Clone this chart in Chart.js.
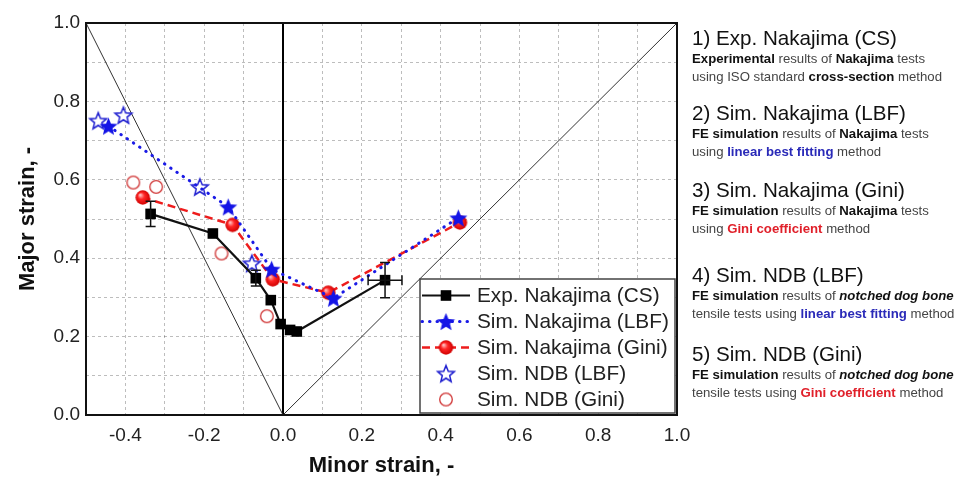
<!DOCTYPE html>
<html>
<head>
<meta charset="utf-8">
<script src="https://cdn.jsdelivr.net/npm/chart.js"></script>
<style>
html,body{margin:0;padding:0;background:#fff;}
#wrap{position:relative;width:966px;height:481px;overflow:hidden;background:#fff;}
#c{position:absolute;left:0;top:0;}
.note{position:absolute;left:692px;font-family:"Liberation Sans",Arial,sans-serif;color:#444;white-space:nowrap;}
.note .t{font-size:20.6px;line-height:24px;color:#111;}
.note .s{font-size:13.2px;line-height:18px;}
.note b{color:#111;}
.blue{color:#2a2ab8;font-weight:bold;}
.red{color:#e0202a;font-weight:bold;}
</style>
</head>
<body>
<div id="wrap">
<canvas id="c" width="966" height="481"></canvas>
<div class="note" style="top:26px"><div class="t">1) Exp. Nakajima (CS)</div><div class="s"><b>Experimental</b> results of <b>Nakajima</b> tests</div><div class="s">using ISO standard <b>cross-section</b> method</div></div>
<div class="note" style="top:101px"><div class="t">2) Sim. Nakajima (LBF)</div><div class="s"><b>FE simulation</b> results of <b>Nakajima</b> tests</div><div class="s">using <span class="blue">linear best fitting</span> method</div></div>
<div class="note" style="top:178px"><div class="t">3) Sim. Nakajima (Gini)</div><div class="s"><b>FE simulation</b> results of <b>Nakajima</b> tests</div><div class="s">using <span class="red">Gini coefficient</span> method</div></div>
<div class="note" style="top:263px"><div class="t">4) Sim. NDB (LBF)</div><div class="s"><b>FE simulation</b> results of <b><i>notched dog bone</i></b></div><div class="s">tensile tests using <span class="blue">linear best fitting</span> method</div></div>
<div class="note" style="top:342px"><div class="t">5) Sim. NDB (Gini)</div><div class="s"><b>FE simulation</b> results of <b><i>notched dog bone</i></b></div><div class="s">tensile tests using <span class="red">Gini coefficient</span> method</div></div>
</div>
<script>
// ---------------- data ----------------
const seriesLabels = ['Exp. Nakajima (CS)', 'Sim. Nakajima (LBF)', 'Sim. Nakajima (Gini)', 'Sim. NDB (LBF)', 'Sim. NDB (Gini)'];

const expX    = [-0.336, -0.178, -0.069, -0.031, -0.006, 0.018, 0.035, 0.259];
const expY    = [ 0.513,  0.463,  0.349,  0.293,  0.232, 0.217, 0.213, 0.344];
const expErrY = [ 0.032,  0,      0.02,   0,      0,     0,     0,     0.045];
const expErrX = [ 0,      0,      0,      0,      0,     0,     0,     0.043];

const lbfX  = [-0.443, -0.139, -0.029, 0.128, 0.445];
const lbfY  = [ 0.737,  0.531,  0.372, 0.298, 0.503];

const giniX = [-0.356, -0.128, -0.026, 0.115, 0.449];
const giniY = [ 0.555,  0.485,  0.346, 0.312, 0.491];

const ndbLbfX = [-0.469, -0.405, -0.211, -0.079];
const ndbLbfY = [ 0.751,  0.765,  0.582,  0.387];

const ndbGiniX = [-0.380, -0.322, -0.156, -0.041];
const ndbGiniY = [ 0.593,  0.582,  0.412,  0.252];

// reference lines: uniaxial tension, equibiaxial, plane strain
const uniX = [-0.5, 0];  const uniY = [1, 0];
const biX  = [0, 1];     const biY  = [0, 1];
const psX  = [0, 0];     const psY  = [0, 1];

const xTickLabels = ['-0.4', '-0.2', '0.0', '0.2', '0.4', '0.6', '0.8', '1.0'];
const yTickLabels = ['0.0', '0.2', '0.4', '0.6', '0.8', '1.0'];

// ---------------- helpers ----------------
const pts = (xs, ys) => xs.map((x, i) => ({x: x, y: ys[i]}));

function makeStar(fill, stroke, R, lw) {
  const s = Math.ceil(R * 2 + lw + 4);
  const c = document.createElement('canvas'); c.width = s; c.height = s;
  const g = c.getContext('2d');
  const cx = s / 2, cy = s / 2 + R * 0.1;
  g.beginPath();
  for (let i = 0; i < 10; i++) {
    const r = (i % 2) ? R * 0.44 : R;
    const a = -Math.PI / 2 + i * Math.PI / 5;
    const px = cx + r * Math.cos(a), py = cy + r * Math.sin(a);
    if (i) g.lineTo(px, py); else g.moveTo(px, py);
  }
  g.closePath();
  if (fill) { g.fillStyle = fill; g.fill(); }
  if (stroke) { g.strokeStyle = stroke; g.lineWidth = lw; g.lineJoin = 'miter'; g.stroke(); }
  return c;
}
function makeSphere(R) {
  const s = Math.ceil(2 * R + 4);
  const c = document.createElement('canvas'); c.width = s; c.height = s;
  const g = c.getContext('2d');
  const grd = g.createRadialGradient(s / 2 - R * 0.35, s / 2 - R * 0.35, R * 0.1, s / 2, s / 2, R);
  grd.addColorStop(0, '#ffb4b4');
  grd.addColorStop(0.4, '#ff2626');
  grd.addColorStop(1, '#d00000');
  g.fillStyle = grd;
  g.beginPath(); g.arc(s / 2, s / 2, R, 0, Math.PI * 2); g.fill();
  return c;
}
function makeRing(R, color, lw) {
  const s = Math.ceil(2 * R + lw + 4);
  const c = document.createElement('canvas'); c.width = s; c.height = s;
  const g = c.getContext('2d');
  g.beginPath(); g.arc(s / 2, s / 2, R, 0, Math.PI * 2);
  g.fillStyle = '#fff'; g.fill();
  g.strokeStyle = color; g.lineWidth = lw; g.stroke();
  return c;
}

const starFilled = makeStar('#1414e6', null, 9.5, 0);
const starHollow = makeStar('#ffffff', '#2020d0', 8.8, 1.5);
const sphere = makeSphere(7.2);
const ring = makeRing(6.3, '#d03434', 1.3);

function tickCb(list) {
  return function (v) {
    const s = (Math.round(v * 10) / 10).toFixed(1);
    return list.indexOf(s) >= 0 ? s : '';
  };
}

// ---------------- plugin: error bars, frame, legend ----------------
const decoPlugin = {
  id: 'deco',
  afterDatasetsDraw(chart) {
    const ctx = chart.ctx, a = chart.chartArea, xs = chart.scales.x, ys = chart.scales.y;
    ctx.save();
    // error bars
    ctx.strokeStyle = '#111'; ctx.lineWidth = 1.5;
    const cap = 5;
    expX.forEach((vx, i) => {
      const px = xs.getPixelForValue(vx), py = ys.getPixelForValue(expY[i]);
      if (expErrY[i] > 0) {
        const y1 = ys.getPixelForValue(expY[i] - expErrY[i]);
        const y2 = ys.getPixelForValue(expY[i] + expErrY[i]);
        ctx.beginPath();
        ctx.moveTo(px, y1); ctx.lineTo(px, y2);
        ctx.moveTo(px - cap, y1); ctx.lineTo(px + cap, y1);
        ctx.moveTo(px - cap, y2); ctx.lineTo(px + cap, y2);
        ctx.stroke();
      }
      if (expErrX[i] > 0) {
        const x1 = xs.getPixelForValue(vx - expErrX[i]);
        const x2 = xs.getPixelForValue(vx + expErrX[i]);
        ctx.beginPath();
        ctx.moveTo(x1, py); ctx.lineTo(x2, py);
        ctx.moveTo(x1, py - cap); ctx.lineTo(x1, py + cap);
        ctx.moveTo(x2, py - cap); ctx.lineTo(x2, py + cap);
        ctx.stroke();
      }
    });
    // frame
    ctx.lineWidth = 2; ctx.strokeStyle = '#111';
    ctx.strokeRect(a.left, a.top, a.right - a.left, a.bottom - a.top);
    // legend
    const lw = 255, lh = 134;
    const lx = a.right - 257, ly = a.bottom - 136;
    ctx.fillStyle = '#fff';
    ctx.fillRect(lx, ly, lw, lh);
    ctx.lineWidth = 1.5; ctx.strokeStyle = '#444';
    ctx.strokeRect(lx, ly, lw, lh);
    ctx.font = '20.8px "Liberation Sans", Arial, sans-serif';
    ctx.textBaseline = 'middle'; ctx.textAlign = 'left';
    for (let i = 0; i < seriesLabels.length; i++) {
      const ds = chart.data.datasets[i];
      const cy = ly + 16.5 + i * 26;
      if (ds.showLine) {
        ctx.save();
        ctx.setLineDash(ds.borderDash || []);
        ctx.lineCap = ds.borderCapStyle || 'butt';
        ctx.lineWidth = ds.borderWidth; ctx.strokeStyle = ds.borderColor;
        ctx.beginPath(); ctx.moveTo(lx + 2, cy); ctx.lineTo(lx + 50, cy); ctx.stroke();
        ctx.restore();
      }
      const st = ds.pointStyle, mx = lx + 26;
      if (st instanceof HTMLCanvasElement) {
        ctx.drawImage(st, mx - st.width / 2, cy - st.height / 2);
      } else {
        const side = ds.pointRadius * Math.SQRT2;
        ctx.fillStyle = ds.pointBackgroundColor;
        ctx.fillRect(mx - side / 2, cy - side / 2, side, side);
      }
      ctx.fillStyle = '#222';
      ctx.fillText(ds.label, lx + 57, cy + 1);
    }
    ctx.restore();
  }
};

// ---------------- chart ----------------
const refLine = (xs, ys, w, col) => ({
  label: '', data: pts(xs, ys), showLine: true, borderColor: col, borderWidth: w,
  pointRadius: 0, pointHoverRadius: 0, fill: false
});

new Chart(document.getElementById('c'), {
  type: 'scatter',
  data: {
    datasets: [
      { label: seriesLabels[0], data: pts(expX, expY), showLine: true,
        borderColor: '#111', borderWidth: 2.2, pointStyle: 'rect', pointRadius: 7.5,
        pointBackgroundColor: '#000', pointBorderColor: '#000', pointBorderWidth: 0 },
      { label: seriesLabels[1], data: pts(lbfX, lbfY), showLine: true,
        borderColor: '#1a1ae6', borderWidth: 3, borderDash: [0.5, 7], borderCapStyle: 'round',
        pointStyle: starFilled, pointRadius: 9 },
      { label: seriesLabels[2], data: pts(giniX, giniY), showLine: true,
        borderColor: '#ee1c1c', borderWidth: 2.5, borderDash: [8, 5],
        pointStyle: sphere, pointRadius: 7 },
      { label: seriesLabels[3], data: pts(ndbLbfX, ndbLbfY), showLine: false,
        borderColor: '#2020d0', pointStyle: starHollow, pointRadius: 9 },
      { label: seriesLabels[4], data: pts(ndbGiniX, ndbGiniY), showLine: false,
        borderColor: '#d03434', pointStyle: ring, pointRadius: 7 },
      refLine(uniX, uniY, 1, '#333'),
      refLine(biX, biY, 1, '#333'),
      refLine(psX, psY, 2, '#000')
    ]
  },
  options: {
    responsive: false,
    animation: false,
    events: [],
    devicePixelRatio: 1,
    layout: { padding: { left: 0, top: 23, right: 289, bottom: 0 } },
    plugins: { legend: { display: false }, tooltip: { enabled: false } },
    scales: {
      x: {
        type: 'linear', min: -0.5, max: 1.0,
        afterFit: (s) => { s.height = 66; },
        grid: { color: 'rgba(0,0,0,0.26)', lineWidth: 1, drawTicks: false },
        border: { display: false, dash: [3, 3] },
        ticks: { stepSize: 0.1, padding: 9, autoSkip: false, maxRotation: 0, color: '#222',
                 font: { family: '"Liberation Sans", Arial, sans-serif', size: 19 },
                 callback: tickCb(xTickLabels) },
        title: { display: true, text: 'Minor strain, -', color: '#111',
                 font: { family: '"Liberation Sans", Arial, sans-serif', size: 22, weight: 'bold' },
                 padding: { top: 0, bottom: 2 } }
      },
      y: {
        type: 'linear', min: 0, max: 1.0,
        afterFit: (s) => { s.width = 86; },
        grid: { color: 'rgba(0,0,0,0.26)', lineWidth: 1, drawTicks: false },
        border: { display: false, dash: [3, 3] },
        ticks: { stepSize: 0.1, padding: 6, autoSkip: false, color: '#222',
                 font: { family: '"Liberation Sans", Arial, sans-serif', size: 19 },
                 callback: tickCb(yTickLabels) },
        title: { display: true, text: 'Major strain, -', color: '#111',
                 font: { family: '"Liberation Sans", Arial, sans-serif', size: 22, weight: 'bold' },
                 padding: { top: 15, bottom: 0 } }
      }
    }
  },
  plugins: [decoPlugin]
});
</script>
</body>
</html>
